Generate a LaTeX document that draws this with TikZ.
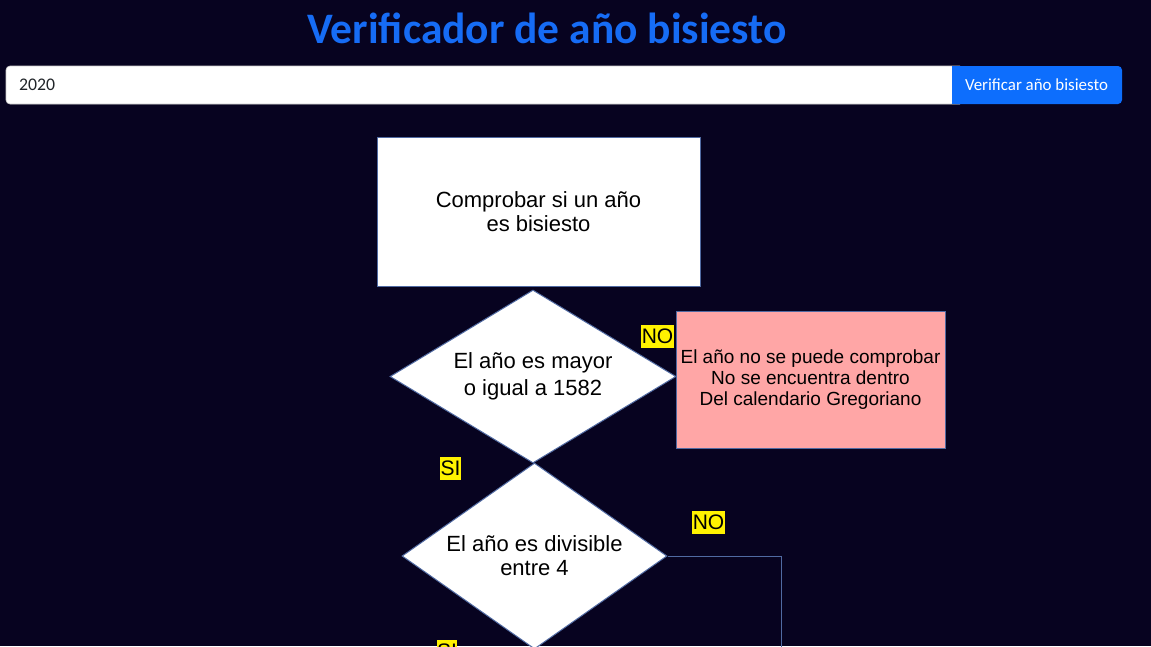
\documentclass[tikz,border=0pt]{standalone}
\usepackage{graphicx}
\usepackage{fontspec}
\setmainfont{Liberation Sans}
\newfontfamily\uifont{Carlito}
\usetikzlibrary{shapes.geometric}
\definecolor{bgc}{RGB}{7,3,32}
\definecolor{titlec}{RGB}{22,108,245}
\definecolor{btnc}{RGB}{13,110,253}
\definecolor{edgec}{RGB}{80,106,162}
\definecolor{pinkc}{RGB}{255,166,166}
\definecolor{inputtext}{RGB}{33,37,41}
\tikzset{
  flowbox/.style={draw=edgec, line width=1pt, fill=white, inner sep=0pt, align=center, text=black},
  decision/.style={diamond, draw=edgec, line width=1pt, fill=white, inner sep=0pt, align=center, shape aspect=1.6, text=black},
  tag/.style={fill=yellow, inner sep=0pt, minimum height=23pt, text=black, font=\fontsize{21}{21}\selectfont},
  conn/.style={draw=edgec, line width=1pt},
}
\begin{document}
\begin{tikzpicture}[x=1pt,y=-1pt]
\useasboundingbox (0,0) rectangle (1151,646);
\fill[bgc] (0,0) rectangle (1151,646);
% title
\node[text=titlec, inner sep=0pt] (title) at (547,28) {\resizebox{479pt}{!}{\uifont\bfseries Verificador de año bisiesto}};
% input field
\fill[white, draw=gray!40, line width=0.6pt, rounded corners=4pt] (960,66) -- (6,66) -- (6,104) -- (960,104);
\node[anchor=west, inner sep=0pt, text=inputtext] (inputval) at (19,85) {\resizebox{36pt}{!}{\uifont 2020}};
% button
\fill[btnc, rounded corners=4pt] (952,66) rectangle (1122,104);
\fill[btnc] (952,66) rectangle (962,104);
\node[text=white, inner sep=0pt] (btntext) at (1036.5,85) {\resizebox{143pt}{!}{\uifont Verificar año bisiesto}};
% flowchart
\node[flowbox, minimum width=323pt, minimum height=149pt, font=\fontsize{22}{23.5}\selectfont] (start) at (538.5,211.5) {Comprobar si un año\\es bisiesto};
\node[decision, minimum width=286pt, minimum height=173pt, font=\fontsize{22}{27}\selectfont] (d1) at (533,376.5) {El año es mayor\\o igual a 1582};
\node[flowbox, fill=pinkc, minimum width=269pt, minimum height=137pt, font=\fontsize{19}{21}\selectfont] (nocheck) at (810.5,379.5) {El año no se puede comprobar\\No se encuentra dentro\\Del calendario Gregoriano};
\node[decision, minimum width=265pt, minimum height=186pt, font=\fontsize{22}{24}\selectfont] (d2) at (534.5,556) {El año es divisible\\entre 4};
\coordinate (down2) at (781,660);
\draw[conn] (d2.east) -| (down2);
% labels
\node[tag, minimum width=33pt] (no1) at (657.5,336.5) {NO};
\node[tag, minimum width=21pt] (si1) at (450.5,468.5) {SI};
\node[tag, minimum width=33pt] (no2) at (708.5,522.5) {NO};
\node[tag, minimum width=20pt] (si2) at (447,651.5) {SI};
\end{tikzpicture}
\end{document}
